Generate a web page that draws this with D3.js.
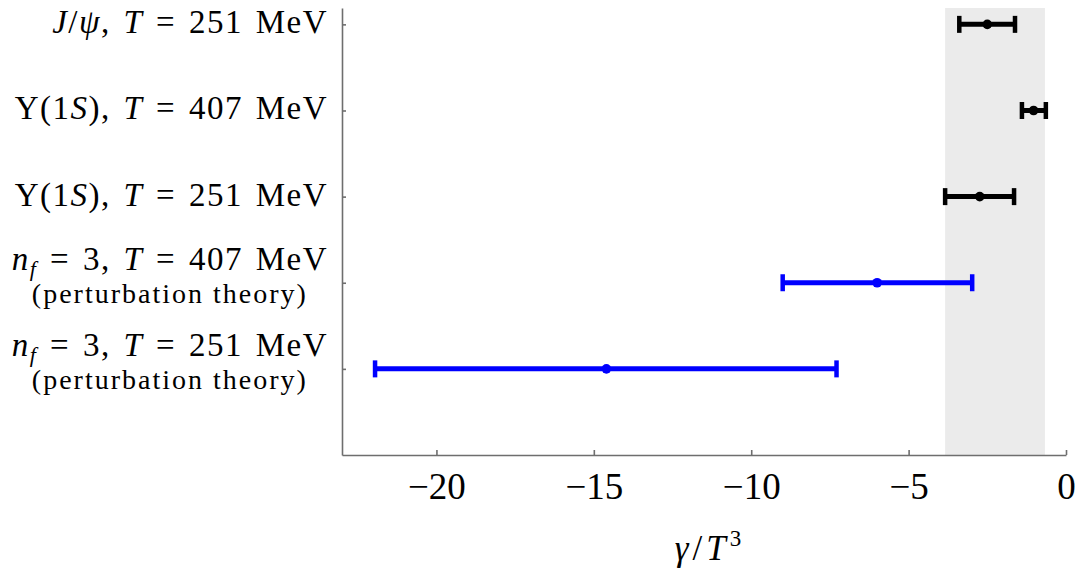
<!DOCTYPE html>
<html>
<head>
  <meta charset="utf-8">
  <title>gamma / T^3</title>
  <script src="https://d3js.org/d3.v7.min.js"></script>
  <style>
    body { margin: 0; background: #fff; }
    #chart text { font-family: "Liberation Serif", "DejaVu Serif", serif; fill: #000; }
    .axis path, .axis line { stroke: #6e6e6e; stroke-width: 1.6; }
  </style>
</head>
<body>
  <div id="chart"></div>

  <script>
    "use strict"

    // dados (de cima para baixo)
    const rotulos = [
      [{t: "J", i: 1}, {t: "/"}, {t: "ψ", i: 1}, {t: ", "}, {t: "T", i: 1}, {t: " = 251 MeV"}],
      [{t: "Υ(1"}, {t: "S", i: 1}, {t: "), "}, {t: "T", i: 1}, {t: " = 407 MeV"}],
      [{t: "Υ(1"}, {t: "S", i: 1}, {t: "), "}, {t: "T", i: 1}, {t: " = 251 MeV"}],
      [{t: "n", i: 1}, {t: "f", i: 1, sub: 1}, {t: " = 3, "}, {t: "T", i: 1}, {t: " = 407 MeV"}],
      [{t: "n", i: 1}, {t: "f", i: 1, sub: 1}, {t: " = 3, "}, {t: "T", i: 1}, {t: " = 251 MeV"}]
    ];
    const notas = ["", "", "", "(perturbation theory)", "(perturbation theory)"];
    const metodo = ["lattice", "lattice", "lattice", "pert", "pert"];
    const centro = [-2.5, -1.03, -2.74, -6.0, -14.6];
    const minimo = [-3.39, -1.40, -3.84, -9.0, -21.95];
    const maximo = [-1.62, -0.64, -1.65, -2.98, -7.29];
    const faixa = [-3.84, -0.67];
    const ticksX = [-20, -15, -10, -5, 0];

    const larguraSVG = 1080, alturaSVG = 576;
    const margin = {top: 8, right: 14, bottom: 121, left: 342},
          larguraVis = larguraSVG - margin.left - margin.right,
          alturaVis = alturaSVG - margin.top - margin.bottom;

    const svg = d3.select('#chart').append('svg')
      .attr('width', larguraSVG)
      .attr('height', alturaSVG);
    const grafico = svg.append('g')
      .attr('transform', 'translate(' + margin.left + ',' + margin.top + ')');

    const x = d3.scaleLinear().domain([-23, 0]).range([0, larguraVis]);
    const y = d3.scaleLinear().domain([-0.19, 5]).range([0, alturaVis]);
    const cor = d3.scaleOrdinal().domain(["lattice", "pert"]).range(["#000000", "#0000ff"]);

    // faixa cinza
    grafico.append('rect')
      .attr('x', x(faixa[0]))
      .attr('width', x(faixa[1]) - x(faixa[0]))
      .attr('y', 0)
      .attr('height', alturaVis)
      .attr('fill', '#ebebeb');

    // eixos
    grafico.append('g')
      .attr('class', 'axis')
      .attr('transform', 'translate(0,' + alturaVis + ')')
      .call(d3.axisBottom(x).tickValues(ticksX).tickSizeInner(-5).tickSizeOuter(0).tickPadding(18))
      .call(g => g.selectAll('text').attr('font-size', 37).attr('fill', '#000'));

    grafico.append('g')
      .attr('class', 'axis')
      .call(d3.axisLeft(y).tickValues(d3.range(rotulos.length)).tickSizeInner(-4).tickSizeOuter(0).tickFormat(''));

    // barras de erro
    const idx = d3.range(centro.length);
    const barras = grafico.selectAll('g.erro')
      .data(idx)
      .enter().append('g')
        .attr('class', 'erro')
        .attr('stroke', i => cor(metodo[i]))
        .attr('fill', i => cor(metodo[i]));

    barras.append('line')
      .attr('x1', i => x(minimo[i])).attr('x2', i => x(maximo[i]))
      .attr('y1', i => y(i)).attr('y2', i => y(i))
      .attr('stroke-width', 5);
    barras.append('line')
      .attr('x1', i => x(minimo[i])).attr('x2', i => x(minimo[i]))
      .attr('y1', i => y(i) - 8.5).attr('y2', i => y(i) + 8.5)
      .attr('stroke-width', 4.5);
    barras.append('line')
      .attr('x1', i => x(maximo[i])).attr('x2', i => x(maximo[i]))
      .attr('y1', i => y(i) - 8.5).attr('y2', i => y(i) + 8.5)
      .attr('stroke-width', 4.5);
    barras.append('circle')
      .attr('cx', i => x(centro[i]))
      .attr('cy', i => y(i))
      .attr('r', 4.8)
      .attr('stroke', 'none');

    // rotulos do eixo y
    const xRot = margin.left - 14;
    idx.forEach(i => {
      const yc = margin.top + y(i);
      const temNota = notas[i] !== "";
      const base = temNota ? yc - 13 : yc + 9;
      const t = svg.append('text')
        .attr('x', xRot).attr('y', base)
        .attr('text-anchor', 'end')
        .attr('font-size', 33)
        .attr('letter-spacing', 1.5)
        .attr('word-spacing', 3);
      rotulos[i].forEach(p => {
        const s = t.append('tspan').text(p.t);
        if (p.i) s.attr('font-style', 'italic');
        if (p.sub) s.attr('font-size', 22).attr('dy', 6);
        else if (p.t.startsWith(' = 3')) s.attr('dy', -6);
      });
      if (temNota) {
        const bb = t.node().getBBox();
        svg.append('text')
          .attr('x', bb.x + bb.width / 2).attr('y', base + 33)
          .attr('text-anchor', 'middle')
          .attr('font-size', 28)
          .attr('letter-spacing', 2)
          .text(notas[i]);
      }
    });

    // titulo eixo x
    const tx = svg.append('text')
      .attr('x', margin.left + larguraVis / 2 + 6)
      .attr('y', 560)
      .attr('text-anchor', 'middle')
      .attr('font-size', 35)
      .attr('letter-spacing', 4);
    tx.append('tspan').attr('font-style', 'italic').text('γ');
    tx.append('tspan').text('/');
    tx.append('tspan').attr('font-style', 'italic').text('T');
    tx.append('tspan').attr('font-size', 23).attr('dy', -14).text('3');
  </script>
</body>
</html>
